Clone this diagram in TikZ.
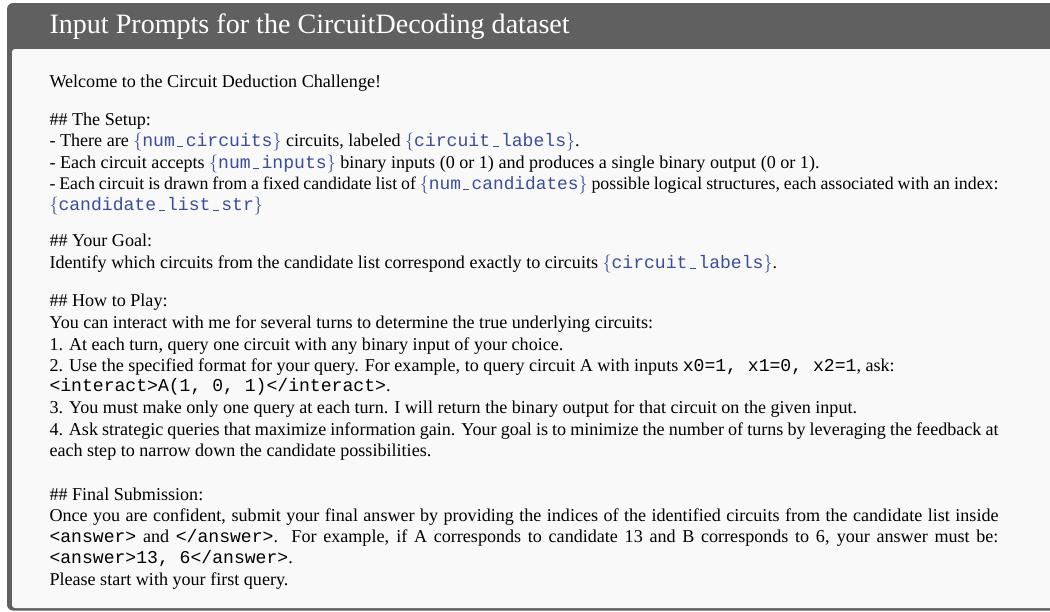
\documentclass[tikz,border=0pt]{standalone}
\usepackage{fontspec}
\setmainfont{Liberation Serif}
\setmonofont{Liberation Mono}
\usepackage{xcolor}

\definecolor{framegray}{RGB}{96,96,96}
\definecolor{bodybg}{RGB}{249,249,249}
\definecolor{phblue}{RGB}{58,76,156}

% one drawing unit
\newdimen\pxu \pxu=0.555556pt

% short underscore used inside the monospaced placeholders
\newcommand\usc{\makebox[0.6em][c]{\rule[-0.02em]{0.34em}{0.055em}}}
% a placeholder in braces, e.g. {num_circuits}
\newcommand\phold[1]{{\color{phblue}$\{$\texttt{#1}$\}$}}
% a line stretched over the full text width
\newcommand\just[1]{\makebox[949\pxu][s]{#1}}

\tikzset{
  txtline/.style={anchor=base west, inner sep=0pt, outer sep=0pt, font=\fontsize{10.05}{12}\selectfont},
  tightline/.style={txtline, font=\fontsize{9.9}{12}\selectfont},
  titletext/.style={anchor=base west, inner sep=0pt, outer sep=0pt, text=white, font=\fontsize{15.6}{18}\selectfont},
}

\begin{document}
\begin{tikzpicture}[x=\pxu, y=-\pxu]
\useasboundingbox (0,0) rectangle (1050,611);
\clip (0,0) rectangle (1050,611);

% frame with title bar, and the body panel
\fill[framegray, rounded corners=6\pxu] (7,3) rectangle (1080,610.5);
\fill[bodybg, rounded corners=3\pxu] (12,49) rectangle (1080,608);

\node[titletext] (t0) at (49.5,33) {Input Prompts for the CircuitDecoding dataset};

\node[txtline] (l1) at (49.5,87.3) {Welcome to the Circuit Deduction Challenge!};

\node[txtline] (l2) at (49.5,125) {\#\# The Setup:};
\node[txtline] (l3) at (49.5,146.7) {- There are \phold{num\usc circuits} circuits, labeled \phold{circuit\usc labels}.};
\node[txtline] (l4) at (49.5,168.3) {- Each circuit accepts \phold{num\usc inputs} binary inputs (0 or 1) and produces a single binary output (0 or 1).};
\node[tightline] (l5) at (49.5,189.3) {\just{- Each circuit is drawn from a fixed candidate list of \phold{num\usc candidates} possible logical structures, each associated with an index:}};
\node[txtline] (l6) at (49.5,210.5) {\phold{candidate\usc list\usc str}};

\node[txtline] (l7) at (49.5,246.7) {\#\# Your Goal:};
\node[txtline] (l8) at (49.5,268.3) {Identify which circuits from the candidate list correspond exactly to circuits \phold{circuit\usc labels}.};

\node[txtline] (l9) at (49.5,306.7) {\#\# How to Play:};
\node[txtline] (l10) at (49.5,328.3) {You can interact with me for several turns to determine the true underlying circuits:};
\node[txtline] (l11) at (49.5,350) {1. At each turn, query one circuit with any binary input of your choice.};
\node[txtline] (l12) at (49.5,371) {2. Use the specified format for your query. For example, to query circuit A with inputs \texttt{x0=1, x1=0, x2=1}, ask:};
\node[txtline] (l13) at (49.5,391.7) {\texttt{<interact>A(1, 0, 1)</interact>}.};
\node[txtline] (l14) at (49.5,413.3) {3. You must make only one query at each turn. I will return the binary output for that circuit on the given input.};
\node[txtline] (l15) at (49.5,435) {\just{4. Ask strategic queries that maximize information gain. Your goal is to minimize the number of turns by leveraging the feedback at}};
\node[txtline] (l16) at (49.5,456.7) {each step to narrow down the candidate possibilities.};

\node[txtline] (l17) at (49.5,500) {\#\# Final Submission:};
\node[txtline] (l18) at (49.5,521.7) {\just{Once you are confident, submit your final answer by providing the indices of the identified circuits from the candidate list inside}};
\node[txtline] (l19) at (49.5,542) {\just{\texttt{<answer>} and \texttt{</answer>}.\ \ For example, if A corresponds to candidate 13 and B corresponds to 6, your answer must be:}};
\node[txtline] (l20) at (49.5,563.3) {\texttt{<answer>13, 6</answer>}.};
\node[txtline] (l21) at (49.5,585) {Please start with your first query.};
\end{tikzpicture}
\end{document}
